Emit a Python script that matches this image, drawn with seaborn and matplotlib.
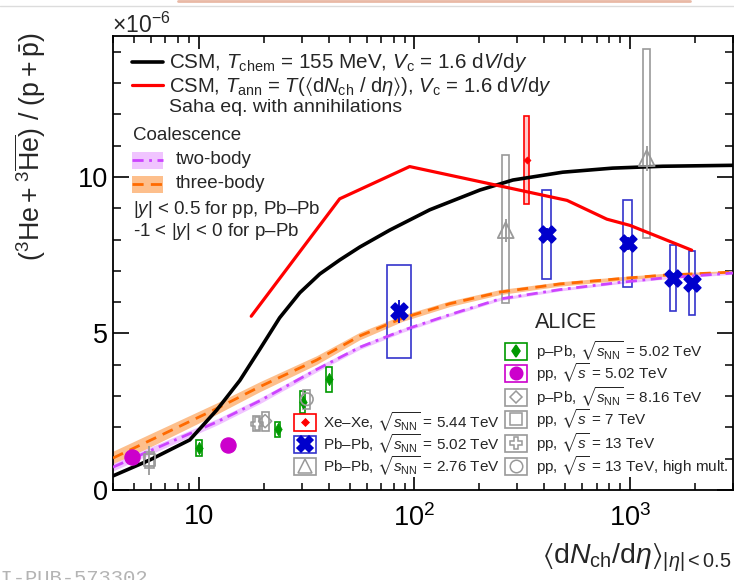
import numpy as np
import pandas as pd
import matplotlib
matplotlib.use("Agg")
import matplotlib.pyplot as plt
import seaborn as sns
from matplotlib.patches import Rectangle
from matplotlib.lines import Line2D
from matplotlib.ticker import FixedLocator, FuncFormatter, NullFormatter, LogLocator

# ---------------- model curves (ratio in units of 1e-6) ----------------
csm_x = [4.0, 5.93, 9.08, 12.1, 15.5, 19.2, 23.7, 29.4, 36.4, 45.1, 55.8, 76.8,
         117.8, 201, 286, 487, 829, 1416, 3000]
csm_y = [0.45, 0.96, 1.6, 2.55, 3.5, 4.5, 5.5, 6.3, 6.9, 7.35, 7.76, 8.3,
         8.95, 9.58, 9.9, 10.15, 10.28, 10.34, 10.37]

saha_x = [17.5, 45.0, 95.0, 510.0, 780.0, 1000.0, 1930.0]
saha_y = [5.55, 9.3, 10.33, 9.25, 8.65, 8.45, 7.66]

coal_x = [4.0, 5.93, 12.1, 19.2, 35.2, 55.8, 88.3, 145.8, 248.6, 471.7, 894.8, 1416, 3000]
three_body = [1.02, 1.58, 2.6, 3.3, 4.15, 4.92, 5.49, 5.95, 6.32, 6.58, 6.75, 6.86, 6.96]
three_body_unc = [0.22, 0.21, 0.18, 0.16, 0.14, 0.12, 0.1, 0.09, 0.08, 0.07, 0.06, 0.055, 0.05]
two_body = [0.73, 1.25, 2.17, 2.85, 3.85, 4.56, 5.1, 5.6, 6.1, 6.4, 6.63, 6.77, 6.93]
two_body_unc = [0.12, 0.115, 0.1, 0.09, 0.08, 0.07, 0.06, 0.055, 0.05, 0.045, 0.04, 0.04, 0.04]

# ---------------- ALICE measurements ----------------
ppb502_x = [10.0, 23.2, 30.3, 40.1]
ppb502_y = [1.35, 1.94, 2.81, 3.53]
ppb502_sys = [0.25, 0.24, 0.35, 0.40]

pp502_x = [4.89, 13.6]
pp502_y = [1.05, 1.44]

pp7_x = [5.9]
pp7_y = [0.95]
pp7_stat = [0.46]
pp7_sys = [0.25]

pp13_x = [18.6]
pp13_y = [2.12]
pp13_sys = [0.25]

ppb816_x = [20.3]
ppb816_y = [2.2]
ppb816_sys = [0.3]

pp13hm_x = [31.7]
pp13hm_y = [2.9]
pp13hm_sys = [0.3]

xexe_x = [332]
xexe_y = [10.53]
xexe_sys = [1.41]

pbpb502_x = [84.5, 410, 975, 1574, 1932]
pbpb502_y = [5.71, 8.17, 7.88, 6.77, 6.61]
pbpb502_stat = [0.37, 0.2, 0.2, 0.15, 0.15]
pbpb502_sys = [1.48, 1.42, 1.39, 1.05, 1.02]

pbpb276_x = [265, 1194]
pbpb276_y = [8.3, 10.6]
pbpb276_stat = [0.37, 0.4]
pbpb276_sys_lo = [2.33, 2.56]
pbpb276_sys_hi = [2.4, 3.5]

# ---------------- style ----------------
sns.set_theme(style="ticks")
plt.rcParams.update({
    "font.family": ["Liberation Sans", "DejaVu Sans"],
    "mathtext.fontset": "custom",
    "mathtext.rm": "Liberation Sans",
    "mathtext.it": "Liberation Sans:italic",
    "mathtext.bf": "Liberation Sans:bold",
    "mathtext.sf": "Liberation Sans",
    "mathtext.fallback": "stixsans",
    "axes.linewidth": 1.3,
    "axes.edgecolor": "black",
    "xtick.color": "black",
    "ytick.color": "black",
})

C_BLUE = "#0000cc"
C_BLUE_BOX = "#3333cc"
C_GREEN = "#009900"
C_MAG = "#cc00cc"
C_RED = "#ff0000"
C_GRAY = "#999999"
C_ORANGE = "#ff6a00"
C_ORANGE_BAND = "#fdbf8c"
C_VIOLET = "#cc44ff"
C_VIOLET_BAND = "#f0c4ff"

W, H = 734, 580
fig = plt.figure(figsize=(W / 100, H / 100), dpi=100)
L, R, T, B = 113, 733, 36, 490
ax = fig.add_axes([L / W, 1 - B / H, (R - L) / W, (B - T) / H])
ax.set_xscale("log")


def fp(px, py):
    return px / W, 1 - py / H


def boxes(xs, ys, lo, hi, hw_dex, color, face="none", lw=1.2, z=2):
    for x, y, a, b in zip(xs, ys, lo, hi):
        x0 = x * 10 ** (-hw_dex)
        x1 = x * 10 ** hw_dex
        ax.add_patch(Rectangle((x0, y - a), x1 - x0, a + b, facecolor=face,
                               edgecolor=color, lw=lw, zorder=z))


# bands and model curves
ax.fill_between(coal_x, np.array(three_body) - three_body_unc,
                np.array(three_body) + three_body_unc, color=C_ORANGE_BAND, lw=0, zorder=1)
ax.fill_between(coal_x, np.array(two_body) - two_body_unc,
                np.array(two_body) + two_body_unc, color=C_VIOLET_BAND, lw=0, zorder=1)
sns.lineplot(x=coal_x, y=three_body, ax=ax, color=C_ORANGE, lw=2.0,
             linestyle=(0, (4, 2.6)), zorder=3)
sns.lineplot(x=coal_x, y=two_body, ax=ax, color=C_VIOLET, lw=2.0,
             linestyle=(0, (4, 2, 1, 2)), zorder=3)

# systematic boxes
boxes(ppb502_x, ppb502_y, ppb502_sys, ppb502_sys, 0.013, C_GREEN)
boxes(pp7_x, pp7_y, pp7_sys, pp7_sys, 0.02, C_GRAY)
boxes(pp13_x, pp13_y, pp13_sys, pp13_sys, 0.016, C_GRAY)
boxes(ppb816_x, ppb816_y, ppb816_sys, ppb816_sys, 0.016, C_GRAY)
boxes(pp13hm_x, pp13hm_y, pp13hm_sys, pp13hm_sys, 0.016, C_GRAY)
boxes(xexe_x, xexe_y, xexe_sys, xexe_sys, 0.012, C_RED, face=(1, 0, 0, 0.2))
boxes(pbpb502_x[:1], pbpb502_y[:1], pbpb502_sys[:1], pbpb502_sys[:1], 0.056, C_BLUE_BOX)
boxes(pbpb502_x[1:3], pbpb502_y[1:3], pbpb502_sys[1:3], pbpb502_sys[1:3], 0.02, C_BLUE_BOX)
boxes(pbpb502_x[3:], pbpb502_y[3:], pbpb502_sys[3:], pbpb502_sys[3:], 0.014, C_BLUE_BOX)
boxes(pbpb276_x, pbpb276_y, pbpb276_sys_lo, pbpb276_sys_hi, 0.016, C_GRAY)

# CSM curves
sns.lineplot(x=csm_x, y=csm_y, ax=ax, color="black", lw=2.6, zorder=4)
sns.lineplot(x=saha_x, y=saha_y, ax=ax, color=C_RED, lw=2.3, zorder=4)

# statistical errors
ax.vlines(pp7_x, np.array(pp7_y) - pp7_stat, np.array(pp7_y) + pp7_stat, color=C_GRAY, lw=1.3, zorder=5)
ax.vlines(pbpb502_x, np.array(pbpb502_y) - pbpb502_stat, np.array(pbpb502_y) + pbpb502_stat,
          color=C_BLUE, lw=1.3, zorder=5)
ax.vlines(pbpb276_x, np.array(pbpb276_y) - pbpb276_stat, np.array(pbpb276_y) + pbpb276_stat,
          color=C_GRAY, lw=1.3, zorder=5)

# markers
sns.scatterplot(x=ppb502_x, y=ppb502_y, ax=ax, marker="d", s=40, color=C_GREEN, edgecolor=C_GREEN, zorder=6)
sns.scatterplot(x=pp502_x, y=pp502_y, ax=ax, marker="o", s=120, color=C_MAG, edgecolor=C_MAG, zorder=6)
sns.scatterplot(x=pp7_x, y=pp7_y, ax=ax, marker="s", s=70, color=C_GRAY, facecolor="none",
                edgecolor=C_GRAY, linewidth=1.3, zorder=6)
sns.scatterplot(x=pp13_x, y=pp13_y, ax=ax, marker="P", s=80, color=C_GRAY, facecolor="none",
                edgecolor=C_GRAY, linewidth=1.1, zorder=6)
sns.scatterplot(x=ppb816_x, y=ppb816_y, ax=ax, marker="D", s=45, color=C_GRAY, facecolor="none",
                edgecolor=C_GRAY, linewidth=1.1, zorder=6)
sns.scatterplot(x=pp13hm_x, y=pp13hm_y, ax=ax, marker="o", s=80, color=C_GRAY, facecolor="none",
                edgecolor=C_GRAY, linewidth=1.2, zorder=6)
sns.scatterplot(x=xexe_x, y=xexe_y, ax=ax, marker="D", s=14, color=C_RED, edgecolor=C_RED, zorder=6)
sns.scatterplot(x=pbpb502_x, y=pbpb502_y, ax=ax, marker="X", s=150, color=C_BLUE, edgecolor=C_BLUE, zorder=6)
sns.scatterplot(x=pbpb276_x, y=pbpb276_y, ax=ax, marker="^", s=130, color=C_GRAY, facecolor="none",
                edgecolor=C_GRAY, linewidth=1.3, zorder=6)

# axes
ax.set_xlim(4, 3000)
ax.set_ylim(0, 14.5)
ax.xaxis.set_major_locator(FixedLocator([10, 100, 1000]))
ax.xaxis.set_minor_locator(LogLocator(base=10, subs=np.arange(2, 10)))
ax.xaxis.set_minor_formatter(NullFormatter())
xlab = {10: "10", 100: r"$10^{2}$", 1000: r"$10^{3}$"}
ax.xaxis.set_major_formatter(FuncFormatter(lambda v, p: xlab.get(int(round(v)), "")))
ax.yaxis.set_major_locator(FixedLocator([0, 5, 10]))
ax.yaxis.set_minor_locator(FixedLocator(np.arange(1, 15)))
ax.yaxis.set_major_formatter(FuncFormatter(lambda v, p: f"{v:g}"))
ax.tick_params(which="both", direction="in", top=True, right=True, labelsize=19.5)
ax.tick_params(axis="x", which="major", length=9.5, width=1.2, pad=10)
ax.tick_params(axis="x", which="minor", length=5, width=1.1)
ax.tick_params(axis="y", which="major", length=11.5, width=1.2, pad=3.5)
ax.tick_params(axis="y", which="minor", length=6, width=1.1)
ax.set_xlabel("")
ax.set_ylabel("")
for s in ax.spines.values():
    s.set_linewidth(1.3)

# axis titles
fig.text(*fp(30, 33), r"$(^{3}\mathrm{He} + ^{3}\overline{\mathrm{He}})\ /\ (\mathrm{p} + \bar{\mathrm{p}})$",
         rotation=90, ha="center", va="top", size=19.3)
fig.text(*fp(731, 564), r"$\langle \mathrm{d}N_{\mathrm{ch}}/\mathrm{d}\eta \rangle_{|\eta| < 0.5}$",
         ha="right", va="baseline", size=20.5)
fig.text(*fp(112, 33), r"$\times$10$^{-6}$", ha="left", va="baseline", size=16.5)

# model legend
LS = 13.5
fig.add_artist(Line2D([132 / W, 163 / W], [1 - 62 / H] * 2, color="black", lw=2.6))
fig.add_artist(Line2D([132 / W, 163 / W], [1 - 85 / H] * 2, color=C_RED, lw=2.3))
fig.text(*fp(169, 62), r"CSM, $T_{\mathrm{chem}}$ = 155 MeV, $V_{\mathrm{c}}$ = 1.6 d$V$/d$y$",
         va="center", size=14.9)
fig.text(*fp(169, 86), r"CSM, $T_{\mathrm{ann}}$ = $T(\langle\mathrm{d}N_{\mathrm{ch}}\ /\ \mathrm{d}\eta\rangle)$, $V_{\mathrm{c}}$ = 1.6 d$V$/d$y$",
         va="center", size=14.6)
fig.text(*fp(169, 108), "Saha eq. with annihilations", va="center", size=14)
fig.text(*fp(133, 135), "Coalescence", va="center", size=LS)
for yc, band, col, ls, lab in [(160, C_VIOLET_BAND, C_VIOLET, (0, (4, 2, 1, 2)), "two-body"),
                               (184, C_ORANGE_BAND, C_ORANGE, (0, (4, 2.6)), "three-body")]:
    fig.add_artist(Rectangle(fp(132, yc + 8.5), 31 / W, 17 / H, transform=fig.transFigure,
                             facecolor=band, edgecolor="none"))
    fig.add_artist(Line2D([132 / W, 163 / W], [1 - yc / H] * 2, color=col, lw=2.0, linestyle=ls))
    fig.text(*fp(176, yc), lab, va="center", size=LS)
fig.text(*fp(133, 210), r"|$y$| < 0.5 for pp, Pb–Pb", va="center", size=LS)
fig.text(*fp(133, 232), r"-1 < |$y$| < 0 for p–Pb", va="center", size=LS)


# data legends
def entry(cx, cy, edge, marker, ms, mfc, mec, text, face="none", tx=None):
    fig.add_artist(Rectangle(fp(cx - 11, cy + 8.5), 22 / W, 17 / H, transform=fig.transFigure,
                             facecolor=face, edgecolor=edge, lw=1.2))
    fig.add_artist(Line2D([cx / W], [1 - cy / H], marker=marker, ms=ms, mfc=mfc, mec=mec,
                          mew=1.1, ls="none"))
    fig.text(*fp(tx, cy), text, va="center", size=11)


snn = r"$\sqrt{s_{\mathrm{NN}}}$"
ss = r"$\sqrt{s}$"
entry(305, 422, C_RED, "D", 3.5, C_RED, C_RED, f"Xe–Xe, {snn} = 5.44 TeV", tx=323)
entry(305, 444, C_BLUE_BOX, "X", 11, C_BLUE, C_BLUE, f"Pb–Pb, {snn} = 5.02 TeV", tx=323)
entry(305, 466, C_GRAY, "^", 10, "none", C_GRAY, f"Pb–Pb, {snn} = 2.76 TeV", tx=323)

fig.text(*fp(535, 323), "ALICE", va="center", size=15.5)
entry(516, 351, C_GREEN, "d", 6, C_GREEN, C_GREEN, f"p–Pb, {snn} = 5.02 TeV", tx=536)
entry(516, 373, C_MAG, "o", 9, C_MAG, C_MAG, f"pp, {ss} = 5.02 TeV", tx=536)
entry(516, 397, C_GRAY, "D", 6, "none", C_GRAY, f"p–Pb, {snn} = 8.16 TeV", tx=536)
entry(516, 419, C_GRAY, "s", 9, "none", C_GRAY, f"pp, {ss} = 7 TeV", tx=536)
entry(516, 443, C_GRAY, "P", 9, "none", C_GRAY, f"pp, {ss} = 13 TeV", tx=536)
entry(516, 466, C_GRAY, "o", 9, "none", C_GRAY, f"pp, {ss} = 13 TeV, high mult.", tx=536)

# page furniture
fig.add_artist(Line2D([0, 1], [1 - 6 / H] * 2, color="#dcdcdc", lw=1.0))
fig.add_artist(Line2D([178 / W, 690 / W], [1 - 1 / H] * 2, color="#e9b9a6", lw=2.0))
fig.text(*fp(148, 584), "ALI-PUB-573302", ha="right", va="baseline",
         family="Liberation Mono", size=14.8, color="#b4b4b4")

fig.savefig("out.png", dpi=100)
